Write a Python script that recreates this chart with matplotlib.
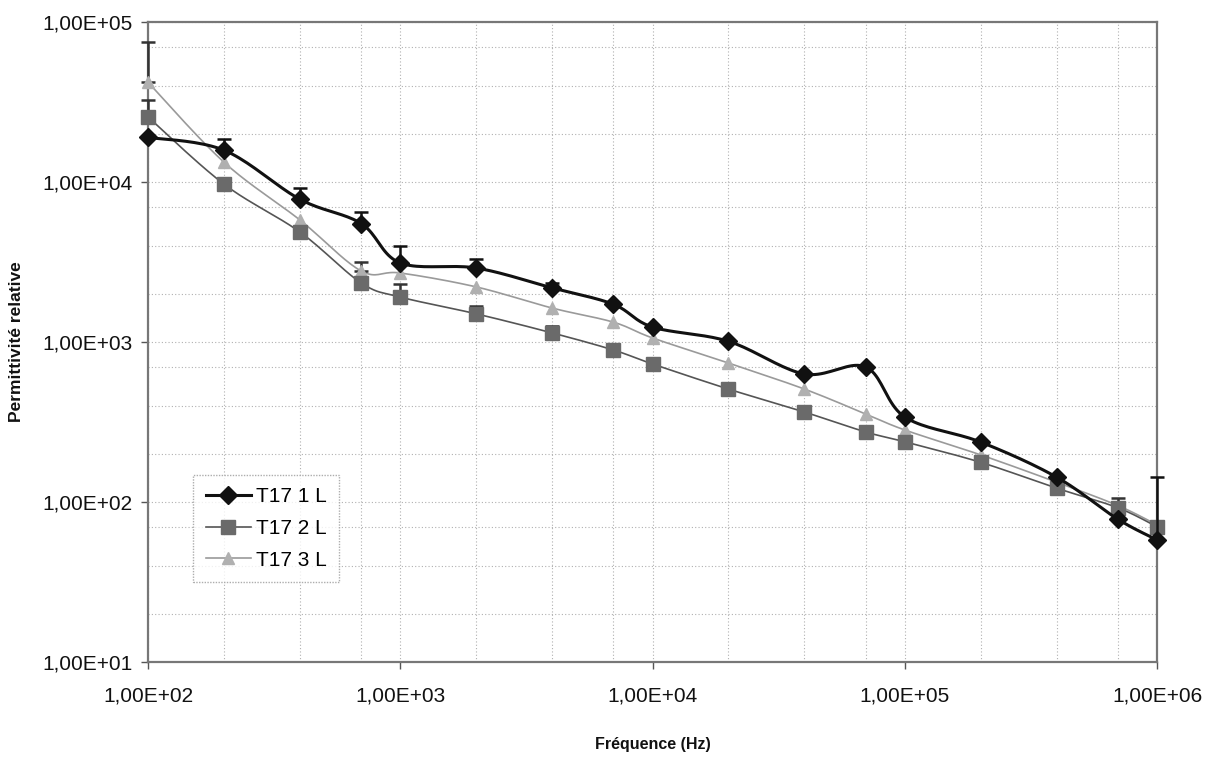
import numpy as np
import matplotlib
matplotlib.use("Agg")
import matplotlib.pyplot as plt
from matplotlib.ticker import FixedLocator, FuncFormatter, NullFormatter

plt.rcParams['font.family'] = ['Liberation Sans', 'DejaVu Sans']

freq = [100, 200, 400, 700, 1000, 2000, 4000, 7000, 10000, 20000, 40000,
        70000, 100000, 200000, 400000, 700000, 1000000]
t17_1 = [19000, 15800, 7800, 5500, 3120, 2900, 2180, 1720, 1240, 1010, 631,
         698, 340, 237, 143, 78, 58]
t17_2 = [25500, 9700, 4870, 2340, 1910, 1500, 1140, 891, 729, 508, 365,
         274, 238, 177, 122, 92, 70]
t17_3 = [42000, 13300, 5790, 2780, 2700, 2210, 1630, 1330, 1060, 739, 508,
         355, 282, 197, 133, 95, 72]
# upper error-bar ends (nan = no visible bar)
nan = float('nan')
t17_1_up = [nan, 18600, 9200, 6500, 3980, 3300, 2340, nan, nan, nan, nan,
            nan, nan, nan, nan, nan, 143]
t17_2_up = [32500, nan, nan, nan, 2300, 1680, 1260, nan, nan, nan, nan,
            nan, nan, nan, nan, 106, nan]
t17_3_up = [75000, nan, nan, 3150, nan, nan, nan, nan, nan, nan, nan,
            nan, nan, nan, nan, nan, nan]

labels = ["T17 1 L", "T17 2 L", "T17 3 L"]
xlabel = "Fréquence (Hz)"
ylabel = "Permittivité relative"


def smooth(x, y, n=20):
    lx = np.log10(np.asarray(x, float))
    ly = np.log10(np.asarray(y, float))
    P = np.column_stack([lx, ly])
    P = np.vstack([P[0], P, P[-1]])
    out = []
    for i in range(1, len(P) - 2):
        p0, p1, p2, p3 = P[i - 1], P[i], P[i + 1], P[i + 2]
        t = np.linspace(0, 1, n, endpoint=False)[:, None]
        c = 0.5 * ((2 * p1) + (-p0 + p2) * t + (2 * p0 - 5 * p1 + 4 * p2 - p3) * t ** 2
                   + (-p0 + 3 * p1 - 3 * p2 + p3) * t ** 3)
        out.append(c)
    out.append(P[-2][None, :])
    C = np.vstack(out)
    return 10 ** C[:, 0], 10 ** C[:, 1]


fig = plt.figure(figsize=(12.12, 7.58), dpi=100)
ax = fig.add_axes([148 / 1212, 1 - 662 / 758, (1157 - 148) / 1212, (662 - 22) / 758])
ax.set_xscale('log')
ax.set_yscale('log')
ax.set_xlim(1e2, 1e6)
ax.set_ylim(1e1, 1e5)

series = [
    (t17_1, t17_1_up, 'D', '#111111', '#111111', 2.2, 9),
    (t17_2, t17_2_up, 's', '#555555', '#6a6a6a', 1.2, 9.5),
    (t17_3, t17_3_up, '^', '#9a9a9a', '#b0b0b0', 1.2, 9),
]
handles = []
for idx, ((vals, up, mk, lc, mc, lw, ms), lab) in enumerate(zip(series, labels)):
    z = 5 - idx
    sx, sy = smooth(freq, vals)
    ax.plot(sx, sy, color=lc, lw=lw, zorder=z, clip_on=False)
    ax.plot(freq, vals, linestyle='none', marker=mk, color=mc, ms=ms,
            markeredgecolor=lc if idx == 0 else mc, zorder=z + 0.5, clip_on=False)
    v = np.array(vals, float)
    u = np.array(up, float)
    m = ~np.isnan(u)
    eb = ax.errorbar(np.array(freq)[m], v[m], yerr=[np.zeros(m.sum()), (u - v)[m]],
                     fmt='none', ecolor=lc if idx == 0 else '#333333', elinewidth=1.8,
                     capsize=4.8, capthick=1.8, zorder=z)
    for art in eb.lines[1] + eb.lines[2]:
        art.set_clip_on(False)
    h, = ax.plot([], [], color=lc, lw=lw, marker=mk, ms=ms, markerfacecolor=mc,
                 markeredgecolor=lc if idx == 0 else mc)
    handles.append(h)

grid_mult = [1, 2, 4, 7]
xg = [m * 10 ** e for e in range(2, 6) for m in grid_mult] + [1e6]
yg = [m * 10 ** e for e in range(1, 5) for m in grid_mult] + [1e5]
for g in xg:
    ax.axvline(g, color='#b0b0b0', lw=0.8, ls=(0, (1, 2)), zorder=0)
for g in yg:
    ax.axhline(g, color='#b0b0b0', lw=0.8, ls=(0, (1, 2)), zorder=0)

fmt = FuncFormatter(lambda v, p: "1,00E+%02d" % int(round(np.log10(v))))
ax.xaxis.set_major_locator(FixedLocator([1e2, 1e3, 1e4, 1e5, 1e6]))
ax.yaxis.set_major_locator(FixedLocator([1e1, 1e2, 1e3, 1e4, 1e5]))
ax.xaxis.set_major_formatter(fmt)
ax.yaxis.set_major_formatter(fmt)
ax.xaxis.set_minor_formatter(NullFormatter())
ax.yaxis.set_minor_formatter(NullFormatter())
ax.tick_params(which='minor', length=0)
ax.tick_params(which='major', length=5, width=1, color='#555555', labelsize=15,
               labelcolor='#111111')
ax.tick_params(axis='x', pad=13)
ax.tick_params(axis='y', pad=6)
for s in ax.spines.values():
    s.set_color('#777777')
    s.set_linewidth(1.6)

ax.set_xlabel(xlabel, fontsize=11.5, fontweight='bold', labelpad=22, color='#111111')
ax.set_ylabel(ylabel, fontsize=12.5, fontweight='bold', labelpad=13, color='#111111')

leg = ax.legend(handles, labels, loc='lower left', bbox_to_anchor=(0.0446, 0.125),
                borderaxespad=0, fontsize=15, frameon=True, fancybox=False,
                handlelength=2.2, handletextpad=0.2, borderpad=0.6, labelspacing=0.6)
leg.get_frame().set_edgecolor('#999999')
leg.get_frame().set_linewidth(1.0)
leg.get_frame().set_linestyle((0, (1, 1)))

fig.savefig('out.png', dpi=100)
